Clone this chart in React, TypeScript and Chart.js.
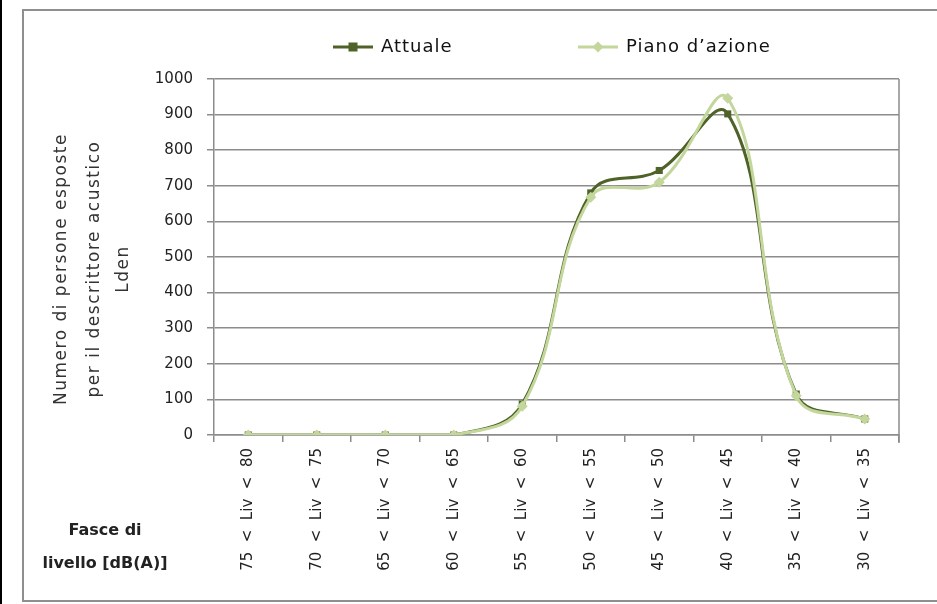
import React, { useEffect, useRef } from "react";
import { Chart, registerables } from "chart.js";

Chart.register(...registerables);

const categories = [
  "75  <  Liv  <  80",
  "70  <  Liv  <  75",
  "65  <  Liv  <  70",
  "60  <  Liv  <  65",
  "55  <  Liv  <  60",
  "50  <  Liv  <  55",
  "45  <  Liv  <  50",
  "40  <  Liv  <  45",
  "35  <  Liv  <  40",
  "30  <  Liv  <  35",
];
const attuale = [0, 0, 0, 0, 87, 680, 743, 902, 115, 45];
const pianoAzione = [0, 0, 0, 0, 81, 668, 710, 946, 110, 45];
const seriesNames = ["Attuale", "Piano d\u2019azione"];
const yTicks = [0, 100, 200, 300, 400, 500, 600, 700, 800, 900, 1000];
const yTitleLines = ["Numero di persone esposte", "per il descrittore acustico", "Lden"];
const xTitleLines = ["Fasce di", "livello [dB(A)]"];

const DARK = "#4f6228";
const LIGHT = "#c3d69b";
const GRID = "#8c8c8c";
const FONT = "'DejaVu Sans', sans-serif";

const overlay = {
  id: "overlay",
  afterDraw(chart: any) {
    const ctx = chart.ctx;
    const { top, bottom, right } = chart.chartArea;
    ctx.save();
    // plot area right border
    ctx.strokeStyle = GRID;
    ctx.lineWidth = 1.5;
    ctx.beginPath();
    ctx.moveTo(right, top);
    ctx.lineTo(right, bottom + 8);
    ctx.stroke();

    // legend
    const items = [
      { name: seriesNames[0], color: DARK, x: 333, shape: "square" },
      { name: seriesNames[1], color: LIGHT, x: 578, shape: "diamond" },
    ];
    const ly = 47;
    items.forEach((it) => {
      ctx.strokeStyle = it.color;
      ctx.fillStyle = it.color;
      ctx.lineWidth = 3;
      ctx.beginPath();
      ctx.moveTo(it.x, ly);
      ctx.lineTo(it.x + 40, ly);
      ctx.stroke();
      const cx = it.x + 20;
      if (it.shape === "square") {
        ctx.fillRect(cx - 4.5, ly - 4.5, 9, 9);
      } else {
        ctx.beginPath();
        ctx.moveTo(cx, ly - 5.5);
        ctx.lineTo(cx + 5.5, ly);
        ctx.lineTo(cx, ly + 5.5);
        ctx.lineTo(cx - 5.5, ly);
        ctx.closePath();
        ctx.fill();
      }
      ctx.fillStyle = "#111";
      ctx.font = `18px ${FONT}`;
      (ctx as any).letterSpacing = "1px";
      ctx.textAlign = "left";
      ctx.textBaseline = "middle";
      ctx.fillText(it.name, it.x + 48, ly);
    });

    // y title
    ctx.fillStyle = "#333";
    ctx.font = `17px ${FONT}`;
    (ctx as any).letterSpacing = "1.5px";
    ctx.textAlign = "center";
    ctx.textBaseline = "middle";
    const yc = 269;
    const xs = [62, 95, 124];
    yTitleLines.forEach((t, i) => {
      ctx.save();
      ctx.translate(xs[i], yc);
      ctx.rotate(-Math.PI / 2);
      ctx.fillText(t, 0, 0);
      ctx.restore();
    });

    // x title
    ctx.fillStyle = "#222";
    ctx.font = `bold 16px ${FONT}`;
    (ctx as any).letterSpacing = "0px";
    ctx.textAlign = "center";
    xTitleLines.forEach((t, i) => {
      ctx.fillText(t, 105, 531 + i * 33);
    });
    ctx.restore();
  },
};

export default function App() {
  const ref = useRef<HTMLCanvasElement | null>(null);
  useEffect(() => {
    document.body.style.margin = "0";
    const canvas = ref.current;
    if (!canvas) return;
    const chart = new Chart(canvas, {
      type: "line",
      data: {
        labels: categories,
        datasets: [
          {
            label: seriesNames[0],
            data: attuale,
            borderColor: DARK,
            backgroundColor: DARK,
            borderWidth: 3,
            pointStyle: "rect",
            pointRadius: 5,
            pointBorderWidth: 0,
            tension: 0.4,
            order: 2,
          },
          {
            label: seriesNames[1],
            data: pianoAzione,
            borderColor: LIGHT,
            backgroundColor: LIGHT,
            borderWidth: 3,
            pointStyle: "rectRot",
            pointRadius: 5.5,
            pointBorderWidth: 0,
            tension: 0.4,
            order: 1,
          },
        ],
      },
      options: {
        responsive: false,
        animation: false,
        layout: { padding: { top: 79, right: 38, left: 0, bottom: 0 } },
        plugins: {
          legend: { display: false },
          tooltip: { enabled: false },
        },
        scales: {
          x: {
            offset: true,
            grid: {
              offset: true,
              drawOnChartArea: false,
              drawTicks: true,
              tickLength: 7,
              color: GRID,
              lineWidth: 1.5,
            },
            border: { display: true, color: GRID, width: 1.5 },
            ticks: {
              minRotation: 90,
              maxRotation: 90,
              autoSkip: false,
              padding: 6,
              color: "#222",
              font: { family: FONT, size: 15 },
            },
            afterFit(scale: any) {
              scale.height = 169;
            },
          },
          y: {
            min: 0,
            max: 1000,
            afterBuildTicks(scale: any) {
              scale.ticks = yTicks.map((v) => ({ value: v }));
            },
            grid: {
              color: GRID,
              lineWidth: 1.5,
              drawTicks: true,
              tickLength: 7,
            },
            border: { display: true, color: GRID, width: 1.5 },
            ticks: {
              padding: 14,
              color: "#222",
              font: { family: FONT, size: 15 },
              callback: (v: any) => String(v),
            },
            afterFit(scale: any) {
              scale.width = 214;
            },
          },
        },
      },
      plugins: [overlay],
    });
    return () => chart.destroy();
  }, []);

  return (
    <div style={{ position: "relative", width: 937, height: 604, overflow: "hidden", background: "#fff" }}>
      <div style={{ position: "absolute", left: 0, top: 0, width: 2, height: 604, background: "#000" }} />
      <div
        style={{
          position: "absolute",
          left: 22,
          top: 9,
          width: 940,
          height: 593,
          border: "2px solid #8f8f8f",
          boxSizing: "border-box",
        }}
      />
      <canvas ref={ref} width={937} height={604} style={{ position: "absolute", left: 0, top: 0 }} />
    </div>
  );
}
